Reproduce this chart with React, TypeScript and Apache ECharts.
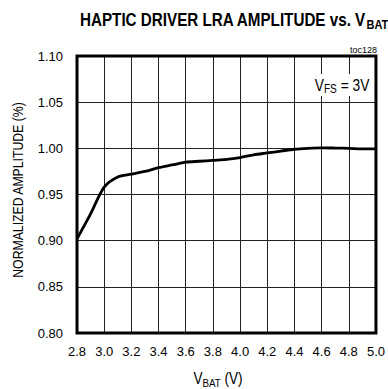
import React, { useEffect, useRef } from "react";
import * as echarts from "echarts";

const vbat = [2.8, 2.9, 3.0, 3.1, 3.2, 3.3, 3.4, 3.5, 3.6, 3.7, 3.8, 3.9, 4.0, 4.1, 4.2, 4.3, 4.4, 4.5, 4.6, 4.7, 4.8, 4.9, 5.0];
const amplitude = [0.902, 0.929, 0.958, 0.969, 0.972, 0.975, 0.979, 0.982, 0.985, 0.986, 0.987, 0.988, 0.990, 0.993, 0.995, 0.997, 0.999, 1.0, 1.0005, 1.0003, 1.0, 0.9995, 0.9995];

const FONT = "'Liberation Sans', Arial, Helvetica, sans-serif";

export default function App() {
  const ref = useRef<HTMLDivElement>(null);
  useEffect(() => {
    if (!ref.current) return;
    const chart = echarts.init(ref.current, undefined, { renderer: "svg" });
    chart.setOption({
      animation: false,
      backgroundColor: "#fff",
      textStyle: { fontFamily: FONT },
      grid: {
        left: 77,
        right: 11,
        top: 56,
        bottom: 56,
        show: true,
        borderColor: "#000",
        borderWidth: 3,
        backgroundColor: "transparent",
        z: 5,
      },
      xAxis: {
        type: "value",
        min: 2.8,
        max: 5.0,
        interval: 0.2,
        axisLine: { show: false },
        axisTick: { show: false },
        splitLine: { show: true, lineStyle: { color: "#222", width: 1 } },
        axisLabel: {
          color: "#000",
          fontSize: 13,
          fontFamily: FONT,
          margin: 12,
          formatter: (v: number) => v.toFixed(1),
        },
      },
      yAxis: {
        type: "value",
        min: 0.8,
        max: 1.1,
        interval: 0.05,
        axisLine: { show: false },
        axisTick: { show: false },
        splitLine: { show: true, lineStyle: { color: "#222", width: 1 } },
        axisLabel: {
          color: "#000",
          fontSize: 13,
          fontFamily: FONT,
          margin: 14,
          formatter: (v: number) => v.toFixed(2),
        },
      },
      series: [
        {
          type: "line",
          data: vbat.map((x, i) => [x, amplitude[i]]),
          smooth: 0.3,
          showSymbol: false,
          lineStyle: { color: "#000", width: 2.8 },
          z: 10,
        },
      ],
      graphic: [
        {
          type: "text",
          x: 80,
          y: 20,
          scaleX: 0.845,
          style: {
            text: "{m|HAPTIC DRIVER LRA AMPLITUDE vs. V}{s|BAT}",
            align: "left",
            verticalAlign: "middle",
            rich: {
              m: { fontSize: 18, fontWeight: "bold", fontFamily: FONT, lineHeight: 24, fill: "#000" },
              s: { fontSize: 13, fontWeight: "bold", fontFamily: FONT, padding: [9, 0, 0, 0], fill: "#000" },
            },
          },
        },
        {
          type: "text",
          x: 377,
          y: 50,
          style: { text: "toc128", fontSize: 9, fontFamily: FONT, fill: "#000", align: "right", verticalAlign: "middle" },
        },
        {
          type: "text",
          x: 342,
          y: 85,
          scaleX: 0.81,
          z: 20,
          style: {
            text: "{m|V}{s|FS}{m| = 3V}",
            align: "center",
            verticalAlign: "middle",
            backgroundColor: "#fff",
            padding: [0, 3, 0, 3],
            rich: {
              m: { fontSize: 17, fontFamily: FONT, lineHeight: 22, fill: "#000" },
              s: { fontSize: 12.5, fontFamily: FONT, padding: [8, 0, 0, 0], fill: "#000" },
            },
          },
        },
        {
          type: "text",
          x: 218,
          y: 379,
          scaleX: 0.85,
          style: {
            text: "{m|V}{s|BAT}{m| (V)}",
            align: "center",
            verticalAlign: "middle",
            rich: {
              m: { fontSize: 16, fontFamily: FONT, lineHeight: 20, fill: "#000" },
              s: { fontSize: 11.5, fontFamily: FONT, padding: [7, 0, 0, 0], fill: "#000" },
            },
          },
        },
        {
          type: "text",
          x: 18,
          y: 190,
          rotation: Math.PI / 2,
          scaleX: 0.875,
          style: {
            text: "NORMALIZED AMPLITUDE (%)",
            fontSize: 14,
            fontFamily: FONT,
            fill: "#000",
            align: "center",
            verticalAlign: "middle",
          },
        },
      ],
    });
    return () => chart.dispose();
  }, []);
  return <div ref={ref} style={{ width: 388, height: 389, position: "absolute", left: 0, top: 0 }} />;
}
